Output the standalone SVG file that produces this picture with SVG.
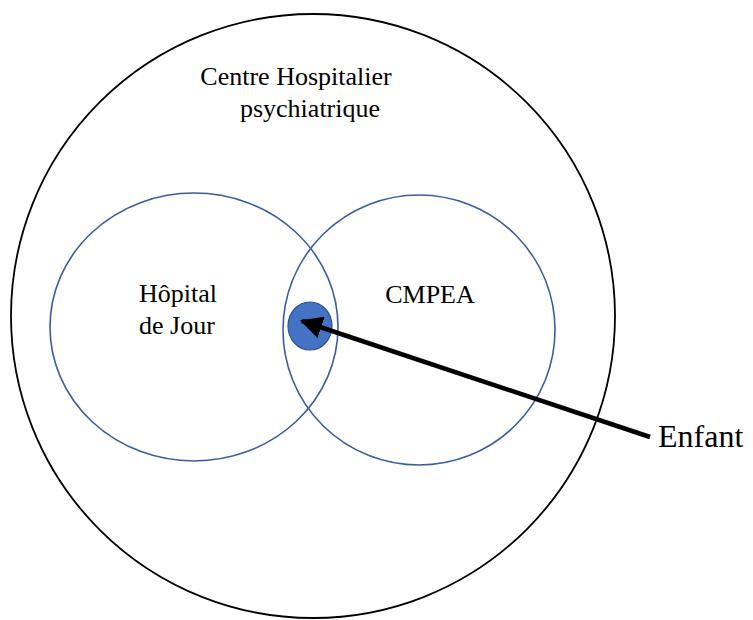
<svg xmlns="http://www.w3.org/2000/svg" width="753" height="620" viewBox="0 0 753 620">
<style>
text{font-family:"Liberation Serif","DejaVu Serif",serif;fill:#000;font-size:26px}
.blue{fill:none;stroke:#3a5da0;stroke-width:1.6}
</style>
<defs>
<marker id="ah" viewBox="0 0 10 10" refX="9" refY="5" markerWidth="5" markerHeight="5" orient="auto" markerUnits="strokeWidth">
<path d="M0,0 L10,5 L0,10 z" fill="#000"/>
</marker>
</defs>
<rect width="753" height="620" fill="#fff"/>
<g id="centre">
<circle cx="313" cy="316" r="302" fill="none" stroke="#000" stroke-width="1.8"/>
<text x="296" y="85" text-anchor="middle">Centre Hospitalier</text>
<text x="310" y="117" text-anchor="middle">psychiatrique</text>
</g>
<g id="hopital">
<ellipse class="blue" cx="194" cy="327" rx="144" ry="134"/>
<text x="178" y="302" text-anchor="middle">Hôpital</text>
<text x="177" y="334" text-anchor="middle">de Jour</text>
</g>
<g id="cmpea">
<ellipse class="blue" cx="419" cy="330" rx="136" ry="135"/>
<text x="430" y="303" text-anchor="middle">CMPEA</text>
</g>
<g id="enfant-dot">
<ellipse cx="310" cy="326" rx="22" ry="24" fill="#4472c4" stroke="#2f528f" stroke-width="1.2"/>
</g>
<g id="enfant">
<text x="658" y="447" style="font-size:32px">Enfant</text>
</g>
<g id="connectors">
<line x1="650" y1="437" x2="302" y2="321" stroke="#000" stroke-width="4.5" marker-end="url(#ah)"/>
</g>
</svg>
